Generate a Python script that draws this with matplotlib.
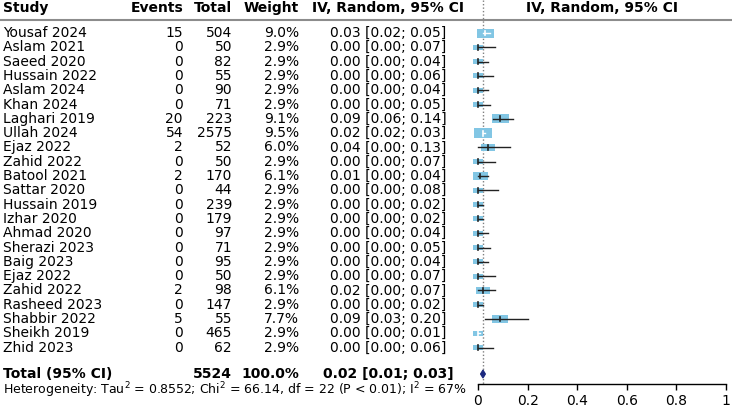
import numpy as np
import matplotlib
matplotlib.use("Agg")
import matplotlib.pyplot as plt
from matplotlib.patches import Rectangle, Polygon
from matplotlib.transforms import blended_transform_factory

plt.rcParams['font.family'] = ['DejaVu Sans']
plt.rcParams['font.size'] = 10

studies = ["Yousaf 2024", "Aslam 2021", "Saeed 2020", "Hussain 2022", "Aslam 2024",
           "Khan 2024", "Laghari 2019", "Ullah 2024", "Ejaz 2022", "Zahid 2022",
           "Batool 2021", "Sattar 2020", "Hussain 2019", "Izhar 2020", "Ahmad 2020",
           "Sherazi 2023", "Baig 2023", "Ejaz 2022", "Zahid 2022", "Rasheed 2023",
           "Shabbir 2022", "Sheikh 2019", "Zhid 2023"]
events = [15, 0, 0, 0, 0, 0, 20, 54, 2, 0, 2, 0, 0, 0, 0, 0, 0, 0, 2, 0, 5, 0, 0]
totals = [504, 50, 82, 55, 90, 71, 223, 2575, 52, 50, 170, 44, 239, 179, 97, 71,
          95, 50, 98, 147, 55, 465, 62]
weights = [9.0, 2.9, 2.9, 2.9, 2.9, 2.9, 9.1, 9.5, 6.0, 2.9, 6.1, 2.9, 2.9, 2.9,
           2.9, 2.9, 2.9, 2.9, 6.1, 2.9, 7.7, 2.9, 2.9]
est = [0.03, 0.00, 0.00, 0.00, 0.00, 0.00, 0.09, 0.02, 0.04, 0.00, 0.01, 0.00,
       0.00, 0.00, 0.00, 0.00, 0.00, 0.00, 0.02, 0.00, 0.09, 0.00, 0.00]
ci_lo = [0.02, 0.00, 0.00, 0.00, 0.00, 0.00, 0.06, 0.02, 0.00, 0.00, 0.00, 0.00,
         0.00, 0.00, 0.00, 0.00, 0.00, 0.00, 0.00, 0.00, 0.03, 0.00, 0.00]
ci_hi = [0.05, 0.07, 0.04, 0.06, 0.04, 0.05, 0.14, 0.03, 0.13, 0.07, 0.04, 0.08,
         0.02, 0.02, 0.04, 0.05, 0.04, 0.07, 0.07, 0.02, 0.20, 0.01, 0.06]

pooled_total = 5524
pooled_weight = 100.0
pooled_est, pooled_lo, pooled_hi = 0.02, 0.01, 0.03
het_text = ("Heterogeneity: Tau$^2$ = 0.8552; Chi$^2$ = 66.14, df = 22 "
            "(P < 0.01); I$^2$ = 67%")
xticks = [0, 0.2, 0.4, 0.6, 0.8, 1]
xticklabels = ["0", "0.2", "0.4", "0.6", "0.8", "1"]

W, H = 732, 409
fig = plt.figure(figsize=(W / 100, H / 100), dpi=100)
ax_l, ax_r, ax_t, ax_b = 478, 726, 20, 384
ax = fig.add_axes([ax_l / W, (H - ax_b) / H, (ax_r - ax_l) / W, (ax_b - ax_t) / H])
row0, step = 33.0, 14.3
ax.set_xlim(0, 1)
ax.set_ylim((ax_b - row0) / step, (ax_t - row0) / step)

def ry(p):
    return (p - row0) / step

for s in ["top", "right", "left"]:
    ax.spines[s].set_visible(False)
ax.spines["bottom"].set_linewidth(1.0)
ax.set_yticks([])
ax.set_xticks(xticks)
ax.set_xticklabels(xticklabels)
ax.tick_params(axis="x", direction="out", length=4, width=1, pad=3, labelsize=10)

tr = blended_transform_factory(fig.transFigure, ax.transData)

def fx(p):
    return p / W

# header
hy = ry(8)
ax.text(fx(3), hy, "Study", transform=tr, ha="left", va="center", fontweight="bold")
ax.text(fx(183), hy, "Events", transform=tr, ha="right", va="center", fontweight="bold")
ax.text(fx(232), hy, "Total", transform=tr, ha="right", va="center", fontweight="bold")
ax.text(fx(299), hy, "Weight", transform=tr, ha="right", va="center", fontweight="bold")
ax.text(fx(388), hy, "IV, Random, 95% CI", transform=tr, ha="center", va="center",
        fontweight="bold")
ax.text(0.5, hy, "IV, Random, 95% CI", ha="center", va="center", fontweight="bold",
        clip_on=False)
ax.plot([0, 1], [ry(ax_t), ry(ax_t)], transform=tr, color="#8c8c8c", lw=1.5,
        clip_on=False)

# pooled dotted line
ax.plot([pooled_est, pooled_est], [ry(0), ry(ax_b)], color="#808080", lw=1,
        ls=(0, (1, 1.5)), clip_on=False, zorder=1)

xscale = ax_r - ax_l
for i, name in enumerate(studies):
    y = i
    ax.text(fx(3), y, name, transform=tr, ha="left", va="center")
    ax.text(fx(183), y, f"{events[i]}", transform=tr, ha="right", va="center")
    ax.text(fx(232), y, f"{totals[i]}", transform=tr, ha="right", va="center")
    ax.text(fx(299), y, f"{weights[i]:.1f}%", transform=tr, ha="right", va="center")
    ax.text(fx(388), y, f"{est[i]:.2f} [{ci_lo[i]:.2f}; {ci_hi[i]:.2f}]",
            transform=tr, ha="center", va="center")
    hpx = 3.0 * np.sqrt(weights[i])
    wpx = 1.9 * hpx
    bw = wpx / xscale
    bh = hpx / step
    ax.add_patch(Rectangle((est[i] - bw / 2, y - bh / 2), bw, bh,
                           facecolor="#82c6e4", edgecolor="none", zorder=2,
                           clip_on=False))
    inside = (ci_lo[i] >= est[i] - bw / 2) and (ci_hi[i] <= est[i] + bw / 2 + 1e-9)
    c = "white" if inside else "#222222"
    ax.plot([ci_lo[i], ci_hi[i]], [y, y], color=c, lw=1, zorder=3, clip_on=False)
    ax.plot([est[i], est[i]], [y - 0.17, y + 0.17], color=c, lw=1.2, zorder=3,
            clip_on=False)

# total row
ty = ry(374)
ax.text(fx(3), ty, "Total (95% CI)", transform=tr, ha="left", va="center",
        fontweight="bold")
ax.text(fx(232), ty, f"{pooled_total}", transform=tr, ha="right", va="center",
        fontweight="bold")
ax.text(fx(299), ty, f"{pooled_weight:.1f}%", transform=tr, ha="right", va="center",
        fontweight="bold")
ax.text(fx(388), ty, f"{pooled_est:.2f} [{pooled_lo:.2f}; {pooled_hi:.2f}]",
        transform=tr, ha="center", va="center", fontweight="bold")
dh = 4.0 / step
ax.add_patch(Polygon([(pooled_lo, ty), (pooled_est, ty - dh), (pooled_hi, ty),
                      (pooled_est, ty + dh)], closed=True, facecolor="#1c2a80",
                     edgecolor="#1c2a80", lw=0.8, zorder=4, clip_on=False))

ax.text(fx(3), ry(390.5), het_text, transform=tr, ha="left", va="center", fontsize=9)

fig.savefig("out.png", dpi=100)
